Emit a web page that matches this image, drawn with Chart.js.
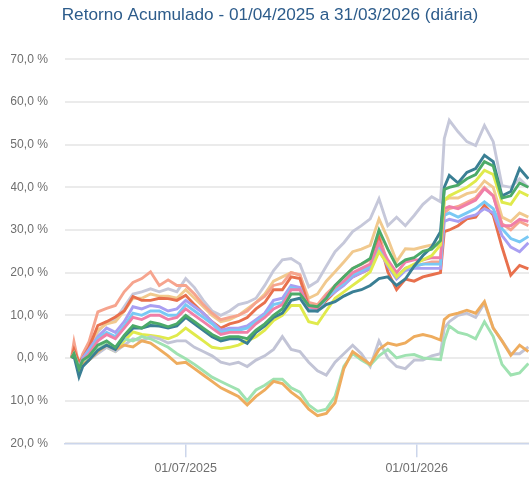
<!DOCTYPE html>
<html><head><meta charset="utf-8">
<script src="https://cdn.jsdelivr.net/npm/chart.js@4.4.1/dist/chart.umd.min.js"></script>
<style>html,body{margin:0;padding:0;background:#fff;}</style>
</head><body>
<canvas id="c" width="529" height="479"></canvas>
<script>
// ---- data (days counted from 01/04/2025) ----
const titleText = 'Retorno Acumulado - 01/04/2025 a 31/03/2026 (diária)';
const days = [0,2,6,9,14,21,28,35,42,49,56,63,70,77,84,91,98,105,112,119,126,133,140,147,154,161,168,175,182,189,196,203,210,217,224,231,238,245,252,259,266,273,280,287,294,297,301,308,315,322,329,336,343,350,357,364];
const xTickDays = [91, 275];
const xTickLabels = ['01/07/2025', '01/01/2026'];
const yMin = -20, yMax = 70, yStep = 10;

const green = [0,1,-2.5,-0.5,0.5, 3,4,2.5,5.3,7.6, 7,8.4,8,7.3,8, 10,8.5,7,5.5,4.5, 5,5,4.5,6.5,8, 10,11.5,15,15,12.3, 12,14,17,19,21, 22,23.3,30,25.5,21.5, 23,23.5,25,25.5,27.5, 39.5,40,40.5,42,43, 46,45,37.5,38,41, 40];
const teal = [0,0.5,-4.4,-2,-0.5, 1.8,3,2,5,7, 7,7.6,7.5,7,7.5, 9.5,8,6.5,5,4, 4.5,4.5,3.4,6,7.5, 9.5,10.5,13.5,14,11, 11,12.5,13.2,14.5,15.5, 16,17,18.6,19,17, 18.5,21.5,24,26,29.6, 40,42.8,41,43.5,44.4, 47.5,46,38,39,44.4, 42];
const yellow = [0,0.5,-3,-1.5,-0.5, 1.5,2.5,1.5,4,6.1, 5.5,5.3,5,4.5,5.3, 7,5.5,4,2.5,2.2, 2.5,3,4,5,6.5, 8.8,10,12.3,12.3,8.5, 8,11,14,15.5,17, 18.5,20.2,24.9,22,19, 21,22,23,24,26.5, 37,38,39,40,41.5, 44,43,36.5,36,39, 38];
const pink = [0,1,-2.5,-0.5,1, 4,5.5,4.5,7,9.5, 9,10,10,9,9.5, 11.5,10,8.5,7,5.5, 6,6,6,8,9.5, 11.5,12.5,16,16,12, 11.5,14.5,16.5,18,20, 21,22,27,23,20, 22.5,23,23,23.5,23.5, 35,35.5,35,36,37, 39.7,38,31,31,32.5, 32];
const lightBlue = [0,1,-2.5,-0.5,1.5, 4.5,6,5,7.5,10.5, 10,11,11,10,10, 12.5,11,9.5,8,6, 6.5,6.5,7,8.5,10, 12.5,13,16.5,16,11.5, 11,14,16,17.5,19.5, 20.5,21.5,26,22,19, 21,21.5,22,22,22, 33.4,34,33,34,35, 36.6,35,30.3,28,27.2, 28.5];
const purple = [0,1,-2.5,0,2, 5,7,6,8.5,12, 11.5,12.3,12,11,11.5, 13.5,12,10.5,8.5,6.5, 7,7,7.5,9,10.5, 13.5,14,17,16.5,11.5, 11,14,15.5,17,19, 20,21,25.5,21.5,18.5, 20.5,21,21,21,21, 32,32.5,32,33,33.5, 35,34,28.7,26,24.9, 27];
const red = [0,2,-1,0,2.5, 7.6,8.5,9.6,11,14.4, 13.5,13.5,14,13.9,13.5, 14.7,12.5,10.5,8.5,7, 8,8.5,9.5,11.5,13, 16,16,19,18.6,12, 11,13.5,15.5,17.5,19, 20,20.9,28,20.2,16, 18.5,18,19,19.5,20, 29.6,30,31,32.6,33, 35.8,33.5,26,19.4,21.7, 20.9];
const salmon = [0,3.8,-1.7,1,3.8, 10.8,11.6,12.3,15.5,17.7, 18.6,20.2,17,18.3,17, 17,15,12.5,10.5,9, 9.5,10,11,13,14.5, 17,17.5,20,19.5,13, 12.5,15,17,19,21, 22,23,29,22,19, 21,21.5,22,22.5,22.5, 34,35,35.5,36.5,37.5, 40,38,31.5,30,32, 31];
const tan = [0,1.5,-2,0,2.5, 6.5,8,8.5,11,14, 14,15,14.5,14.5,14, 16,14,12,10,8.5, 9,10,11.5,13,15, 18,19,20,19.4,14, 15,18,20.2,22.5,24.9, 25.5,26.4,32.6,28,22.6, 25.6,25.5,26,26.5,26.4, 37,37.5,37.5,38.5,39, 41.5,40,33,32,34, 33];
const upperGray = [0,1.5,-2,0,2, 6,8.5,9,12,15, 15.5,16.2,15.5,16.2,15.5, 18.6,16.5,13.5,11,10, 11,12.5,13,14,17, 20.5,23,23.3,22,16.7, 18,21.5,24.9,27,29.6, 31,32.6,37.3,31,33, 31,33.4,36,37.8,36.6, 51.4,55.7,53,50.7,49.8, 54.5,50.7,40.4,40,42, 40];
const lowerGray = [0,1,-2.5,-1.5,-0.5, 1,2.5,1.5,3,4.5, 4,5,4.5,3.5,4, 4,2.5,1.5,0.5,-1, -1.5,-1,-2,-0.5,0.5, 2,5,2,1.5,-1, -3,-4,-1,1,3, 1,-2,4,0,-2, -2.5,-0.5,-0.5,0.5,1, 7,8.5,10,10.5,9.5, 12.8,7,4,1,1, 2.6];
const lightGreen = [0,1,-2.5,-1,0, 2,3.5,2.5,4.5,4, 5,4.5,3.5,2.5,1, -0.2,-1.5,-3,-4.5,-5.5, -6.5,-7.5,-10,-7.5,-6.4, -5,-5,-7,-8,-11, -12.5,-12,-9,-2,1, -0.5,-1.7,0.5,2,0, 0.6,0.8,0,-0.2,-0.4, 4,7.5,6,5.5,4.5, 8.5,5,-1.5,-4,-3.5, -1.3];
const orange = [0,1,-3,-1.5,-0.5, 1.5,3,2,3,2.6, 4,3.5,2,0.5,-1.3, -1,-2.5,-4,-5.5,-7, -8,-9,-11,-9,-7.5, -5.5,-6,-8,-9.5,-12, -13.5,-13,-10.5,-2.5,1.5, 0,-1.5,2,3.5,3, 3.5,5,5.5,5,4.2, 9,10,10.5,11.2,10.5, 13.2,7,4,0.6,3, 1.5];

const seriesList = [
  ['green', green, '#4caa69'],
  ['teal', teal, '#3a7f94'],
  ['orange', orange, '#eeac5e'],
  ['lightGreen', lightGreen, '#9fe2b1'],
  ['lowerGray', lowerGray, '#c2c4d6'],
  ['yellow', yellow, '#e0ea4c'],
  ['pink', pink, '#f07fa8'],
  ['lightBlue', lightBlue, '#79c9f4'],
  ['purple', purple, '#a99ff2'],
  ['red', red, '#e8704d'],
  ['salmon', salmon, '#f6a48e'],
  ['tan', tan, '#f1c98e'],
  ['upperGray', upperGray, '#c6c8da']
];

// ---- font choice ----
function hasFont(name){
  const c = document.createElement('canvas').getContext('2d');
  const s = 'Retorno Acumulado 0123456789';
  c.font = '40px monospace'; const w1 = c.measureText(s).width;
  c.font = '40px "' + name + '", monospace'; const w2 = c.measureText(s).width;
  return Math.abs(w1 - w2) > 0.5;
}
let fam, titleSize, yTickSize, xTickSize;
if (hasFont('Liberation Sans Narrow')) {
  fam = '"Liberation Sans Narrow", "Liberation Sans", Arial, sans-serif';
  titleSize = 21; yTickSize = 14.8; xTickSize = 15.3;
} else {
  fam = '"Liberation Sans", Arial, sans-serif';
  titleSize = 17.2; yTickSize = 12.1; xTickSize = 12.5;
}

const datasets = seriesList.map(([name, vals, col]) => ({
  label: name,
  data: days.map((d, i) => ({x: d, y: vals[i]})),
  borderColor: col,
  backgroundColor: col,
  borderWidth: 2.9,
  pointRadius: 0,
  fill: false,
  tension: 0
}));

new Chart(document.getElementById('c'), {
  type: 'line',
  data: { datasets },
  options: {
    responsive: false,
    animation: false,
    events: [],
    layout: { padding: { left: 11, right: 0, top: 0, bottom: 0 } },
    plugins: {
      legend: { display: false },
      tooltip: { enabled: false },
      title: {
        display: true, text: titleText, color: '#2d5c8b',
        font: { family: fam, size: titleSize, weight: 'normal' },
        padding: { top: 5, bottom: 59.3 - 5 - titleSize * 1.2 }
      }
    },
    scales: {
      x: {
        type: 'linear', min: -5.15, max: 364.5,
        afterBuildTicks: s => { s.ticks = xTickDays.map(v => ({ value: v })); },
        afterFit: s => { s.height = 35.7; },
        ticks: {
          autoSkip: false, maxRotation: 0, padding: 4, color: '#6f6f6f',
          font: { family: fam, size: xTickSize },
          callback: v => { const k = xTickDays.indexOf(v); return k >= 0 ? xTickLabels[k] : ''; }
        },
        grid: { drawOnChartArea: false, drawTicks: true, tickLength: 14, color: '#ccd6eb', lineWidth: 1.5 },
        border: { display: true, color: '#ccd6eb', width: 1.5 }
      },
      y: {
        min: yMin, max: yMax,
        afterFit: s => { s.width = 54; },
        ticks: {
          stepSize: yStep, padding: 17, color: '#6f6f6f',
          font: { family: fam, size: yTickSize },
          callback: v => v.toFixed(1).replace('.', ',') + ' %'
        },
        grid: { color: '#ebebeb', lineWidth: 2, drawTicks: false },
        border: { display: false }
      }
    }
  }
});
</script>
</body></html>
